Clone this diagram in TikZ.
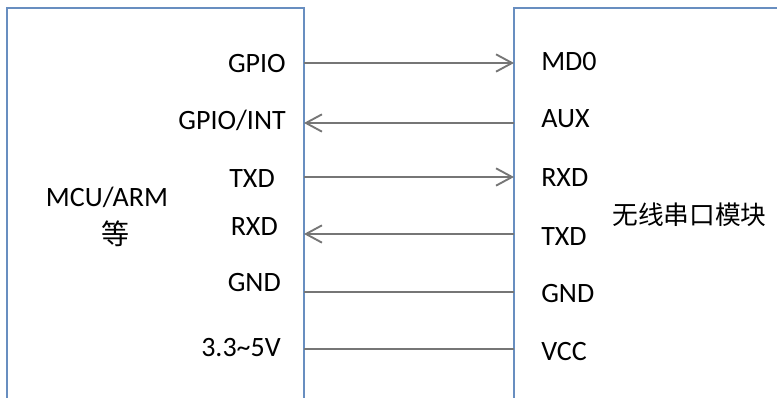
\documentclass[tikz,border=0pt]{standalone}
\usepackage{fontspec}
\setmainfont{Carlito}
\newfontfamily\cjkfont{Noto Sans CJK SC}
\usetikzlibrary{arrows.meta}

\definecolor{boxblue}{RGB}{104,142,192}
\definecolor{wiregray}{RGB}{118,118,118}

\begin{document}
\begin{tikzpicture}[x=0.75pt, y=-0.75pt,
  box/.style={boxblue, line width=1.4pt},
  wire/.style={wiregray, line width=2pt},
  sig/.style={wire, -{Straight Barb[length=12pt,width=13pt,line width=1.4pt]}},
  lbl/.style={font=\fontsize{21}{25}\selectfont, inner sep=0pt}]
\useasboundingbox [fill=white] (0,0) rectangle (777,398);
\clip (0,0) rectangle (777,398);
% the two boards, open at the bottom
\draw [box] (7,420) -- (7,8) -- (304,8) -- (304,420);
\draw [box] (514,420) -- (514,8) -- (800,8);
\begin{scope}[every node/.style={lbl}]
\node [anchor=base] (mcu) at (107,207) {MCU/ARM};
\node (mcudeng) at (115,234) {\cjkfont 等};
\node [anchor=west, font=\fontsize{19.3}{23}\selectfont] (module) at (612,215) {\cjkfont 无线串口模块};
\foreach \n/\t/\x/\y in {gpio/GPIO/286/73, int/{GPIO/INT}/286/130,
    txd/TXD/275/188, rxd/RXD/278/236, gnd/GND/281/292,
    pwr/{3.3\textasciitilde 5V}/281/357}
  \node [anchor=base east] (l\n) at (\x,\y) {\t};
\foreach \n/\t/\y in {md/MD0/71, aux/AUX/128, rxd/RXD/187,
    txd/TXD/246, gnd/GND/303, vcc/VCC/360}
  \node [anchor=base west] (r\n) at (541,\y) {\t};
\end{scope}
% pin ends on the board edges
\foreach \i/\y in {1/63, 2/123, 3/177, 4/234, 5/292, 6/349} {
  \coordinate (a\i) at (304,\y);
  \coordinate (b\i) at (514,\y);
}
\draw [sig] (a1) -- (b1);
\draw [sig] (b2) -- (a2);
\draw [sig] (a3) -- (b3);
\draw [sig] (b4) -- (a4);
\draw [wire] (a5) -- (b5);
\draw [wire] (a6) -- (b6);
\end{tikzpicture}
\end{document}
